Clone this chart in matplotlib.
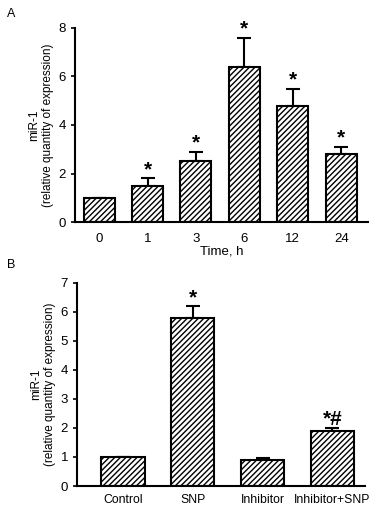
import matplotlib.pyplot as plt

plt.rcParams['font.family'] = ['Liberation Sans', 'DejaVu Sans']
plt.rcParams['hatch.linewidth'] = 1.0

# Panel A data
time_labels = ['0', '1', '3', '6', '12', '24']
time_means = [1.0, 1.5, 2.5, 6.4, 4.8, 2.8]
time_err = [0.0, 0.3, 0.4, 1.2, 0.7, 0.3]
time_marks = ['', '*', '*', '*', '*', '*']

# Panel B data
group_labels = ['Control', 'SNP', 'Inhibitor', 'Inhibitor+SNP']
group_means = [1.0, 5.8, 0.9, 1.9]
group_err = [0.0, 0.4, 0.08, 0.1]
group_marks = ['', '*', '', '*#']

fig = plt.figure(figsize=(3.84, 5.07), dpi=100)
ax_a = fig.add_axes([0.195, 0.562, 0.763, 0.383])
ax_b = fig.add_axes([0.2005, 0.0414, 0.7505, 0.4006])


def draw_panel(ax, labels, means, errs, marks, width, ymax, yticks, xlim, pad, xsize):
    x = list(range(len(labels)))
    ax.bar(x, means, width=width, color='white', edgecolor='black',
           linewidth=1.5, hatch='//////', zorder=2)
    ax.errorbar(x, means, yerr=[[0] * len(errs), errs], fmt='none',
                ecolor='black', elinewidth=1.5, capsize=5, capthick=1.5, zorder=1)
    for xi, m, e, s in zip(x, means, errs, marks):
        if s:
            ax.text(xi, m + e - ymax * 0.005, s, ha='center', va='bottom',
                    fontsize=15, fontweight='bold')
    ax.set_xlim(*xlim)
    ax.set_ylim(0, ymax)
    ax.set_yticks(yticks)
    ax.set_xticks(x)
    ax.set_xticklabels(labels)
    ax.tick_params(axis='x', length=0, labelsize=xsize, pad=pad)
    ax.tick_params(axis='y', direction='out', length=3, width=1.2, labelsize=9.5)
    for side in ['top', 'right']:
        ax.spines[side].set_visible(False)
    for side in ['left', 'bottom']:
        ax.spines[side].set_linewidth(1.5)
    ax.set_ylabel('miR-1\n(relative quantity of expression)', fontsize=8.5, labelpad=3)


draw_panel(ax_a, time_labels, time_means, time_err, time_marks, 0.64, 8,
           [0, 2, 4, 6, 8], (-0.5, 5.55), 8, 9.5)
ax_a.set_xlabel('Time, h', fontsize=9.5, labelpad=0)

draw_panel(ax_b, group_labels, group_means, group_err, group_marks, 0.62, 7,
           range(8), (-0.66, 3.47), 6, 8.8)

fig.text(0.018, 0.985, 'A', fontsize=9, va='top')
fig.text(0.018, 0.49, 'B', fontsize=9, va='top')

fig.savefig('out.png', dpi=100)
